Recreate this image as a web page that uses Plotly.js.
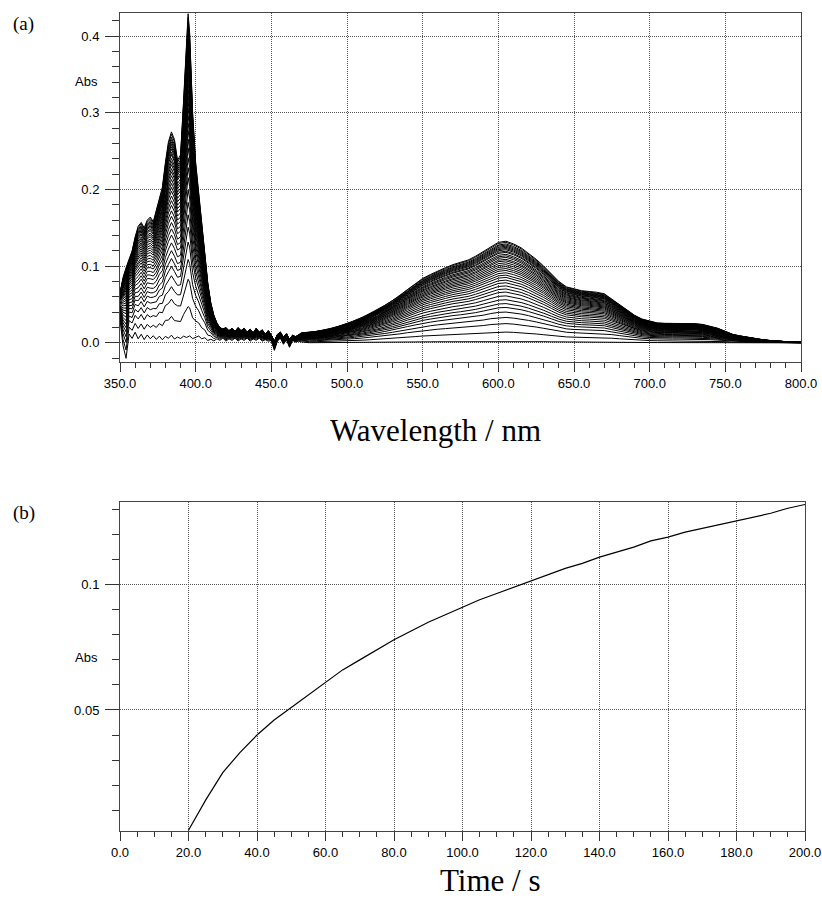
<!DOCTYPE html>
<html>
<head>
<meta charset="utf-8">
<script src="https://cdn.plot.ly/plotly-3.0.1.min.js"></script>
<style>html,body{margin:0;padding:0;background:#fff;}#chart{width:822px;height:903px;}</style>
</head>
<body>
<div id="chart"></div>
<script>
// ---- Panel (a): UV region wavelengths (nm) ----
const wlUV = [350,352,354,356,358,360,362,364,366,368,370,372,374,376,378,380,382,384,386,388,390,392,394,395,396,398,400,402,404,406,408,410,412,414,416,418,420,422,424,426,428,430,432,434,436,438,440,442,444,446,448,450,452,454,456,458,460,462,464,466,468,470];
// Top (last) spectrum in the UV region
const topUV = [0.065,0.085,0.098,0.110,0.120,0.138,0.152,0.157,0.150,0.160,0.164,0.158,0.172,0.186,0.203,0.235,0.262,0.275,0.265,0.238,0.245,0.315,0.400,0.429,0.405,0.300,0.235,0.195,0.160,0.117,0.078,0.052,0.036,0.026,0.020,0.018,0.020,0.016,0.019,0.015,0.020,0.016,0.019,0.014,0.018,0.013,0.019,0.014,0.017,0.011,0.016,0.010,0.002,0.011,0.014,0.007,0.012,0.004,0.010,0.008,0.011,0.013];
// Lowest (first) spectrum in the UV region: noisy baseline
const baseUV = [0.030,-0.005,-0.022,0.010,0.004,0.012,0.003,0.009,0.002,0.008,0.003,0.007,0.002,0.006,0.001,0.005,0.002,0.006,0.001,0.004,0.002,0.004,0.001,0.002,0.003,0.001,0.004,0.006,0.003,0.005,0.002,0.004,0.002,0.005,0.003,0.006,0.002,0.005,0.003,0.006,0.002,0.005,0.003,0.006,0.002,0.005,0.003,0.006,0.002,0.004,0.002,0.003,-0.010,0.002,0.006,-0.002,0.004,-0.006,0.003,0.001,0.002,0.001];
// Visible region wavelengths (nm) and top spectrum
const wlVis = [475,480,485,490,495,500,505,510,515,520,525,530,535,540,545,550,555,560,565,570,575,580,585,590,595,600,605,610,615,620,625,630,635,640,645,650,655,660,665,670,675,680,685,690,695,700,705,710,715,720,725,730,735,740,745,750,755,760,765,770,775,780,785,790,795,800];
const topVis = [0.014,0.015,0.017,0.019,0.022,0.025,0.029,0.033,0.038,0.043,0.049,0.055,0.062,0.070,0.077,0.084,0.089,0.094,0.098,0.102,0.105,0.108,0.113,0.119,0.126,0.131,0.1325,0.129,0.124,0.117,0.109,0.100,0.090,0.080,0.073,0.070,0.068,0.067,0.066,0.064,0.057,0.050,0.043,0.036,0.031,0.028,0.026,0.0255,0.0255,0.0255,0.0255,0.025,0.024,0.022,0.019,0.015,0.011,0.009,0.007,0.006,0.004,0.003,0.002,0.0015,0.001,0.0008];

// ---- Panel (b): kinetic trace ----
const timeS = [20,25,30,35,40,45,50,55,60,65,70,75,80,85,90,95,100,105,110,115,120,125,130,135,140,145,150,155,160,165,170,175,180,185,190,195,200];
const absT = [0.002,0.014,0.025,0.033,0.040,0.046,0.051,0.056,0.061,0.066,0.070,0.074,0.078,0.0815,0.085,0.088,0.091,0.094,0.0965,0.099,0.1015,0.104,0.1065,0.1085,0.111,0.113,0.115,0.1175,0.119,0.121,0.1225,0.124,0.1255,0.127,0.1285,0.1305,0.132];

const traces = [];
const wlAll = wlUV.concat(wlVis);
const last = absT[absT.length - 1];
absT.forEach(function (a) {
  const f = a / last;
  const yUV = wlUV.map(function (_, j) { return baseUV[j] + f * (topUV[j] - baseUV[j]); });
  const yVis = wlVis.map(function (_, j) { return f * topVis[j]; });
  traces.push({
    type: 'scatter', mode: 'lines', x: wlAll, y: yUV.concat(yVis),
    xaxis: 'x', yaxis: 'y', line: {color: '#000', width: 1}, hoverinfo: 'skip'
  });
});
traces.push({
  type: 'scatter', mode: 'lines', x: timeS, y: absT,
  xaxis: 'x2', yaxis: 'y2', line: {color: '#000', width: 1.2}, hoverinfo: 'skip'
});

const tickFont = {family: 'Liberation Sans, Arial, sans-serif', size: 13, color: '#000'};
const serif = 'Liberation Serif, Times New Roman, serif';
function ax(extra) {
  return Object.assign({
    ticks: 'outside', tickcolor: '#333', tickwidth: 1,
    showline: true, mirror: true, linecolor: '#444', linewidth: 1,
    showgrid: true, gridcolor: '#555', griddash: '1px,1px', gridwidth: 1,
    zeroline: false, tickfont: tickFont, fixedrange: true
  }, extra);
}
function px(x) { return (x - 120) / 685; }
function py(y) { return (831 - y) / 818; }

const layout = {
  width: 822, height: 903,
  margin: {l: 120, r: 17, t: 13, b: 72},
  paper_bgcolor: '#fff', plot_bgcolor: '#fff',
  showlegend: false,
  xaxis: ax({domain: [0, 0.9942], anchor: 'y', range: [350, 800], tick0: 350, dtick: 50, tickformat: '.1f', ticklen: 9,
    minor: {dtick: 10, ticklen: 5, ticks: 'outside', tickcolor: '#333', showgrid: false}}),
  yaxis: ax({domain: [0.5733, 1], anchor: 'x', range: [-0.025, 0.43], tick0: 0, dtick: 0.1, tickformat: '.1f', ticklen: 14,
    ticklabelstandoff: 3,
    minor: {dtick: 0.02, ticklen: 7, ticks: 'outside', tickcolor: '#333', showgrid: false}}),
  xaxis2: ax({domain: [0, 1], anchor: 'y2', range: [0, 200], tick0: 0, dtick: 20, tickformat: '.1f', ticklen: 9,
    minor: {dtick: 5, ticklen: 5, ticks: 'outside', tickcolor: '#333', showgrid: false}}),
  yaxis2: ax({domain: [0, 0.4022], anchor: 'x2', range: [0.0017, 0.133], tick0: 0, dtick: 0.05, ticklen: 14,
    ticklabelstandoff: 3,
    minor: {tick0: 0, dtick: 0.01, ticklen: 7, ticks: 'outside', tickcolor: '#333', showgrid: false}}),
  annotations: [
    {text: '(a)', xref: 'paper', yref: 'paper', x: px(23.5), y: py(24), showarrow: false, xanchor: 'center', yanchor: 'middle', font: {family: serif, size: 19, color: '#000'}},
    {text: '(b)', xref: 'paper', yref: 'paper', x: px(24), y: py(513), showarrow: false, xanchor: 'center', yanchor: 'middle', font: {family: serif, size: 19, color: '#000'}},
    {text: 'Abs', xref: 'paper', yref: 'paper', x: px(86), y: py(82), showarrow: false, xanchor: 'center', yanchor: 'middle', font: tickFont},
    {text: 'Abs', xref: 'paper', yref: 'paper', x: px(86), y: py(657), showarrow: false, xanchor: 'center', yanchor: 'middle', font: tickFont},
    {text: 'Wavelength / nm', xref: 'paper', yref: 'paper', x: px(435), y: py(430), showarrow: false, xanchor: 'center', yanchor: 'middle', font: {family: serif, size: 31, color: '#000'}},
    {text: 'Time / s', xref: 'paper', yref: 'paper', x: px(490), y: py(880), showarrow: false, xanchor: 'center', yanchor: 'middle', font: {family: serif, size: 31, color: '#000'}}
  ]
};

Plotly.newPlot('chart', traces, layout, {displayModeBar: false, staticPlot: true});
</script>
</body>
</html>
